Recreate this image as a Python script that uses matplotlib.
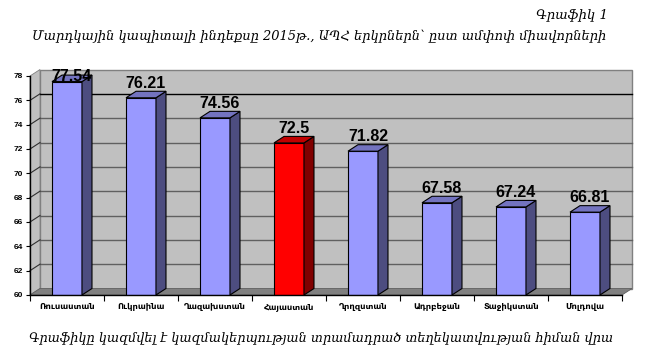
import numpy as np
import matplotlib
matplotlib.use("Agg")
import matplotlib.pyplot as plt
from matplotlib.patches import Polygon

# data
countries = ["Ռուսաստան", "Ուկրաինա", "Ղազախստան", "Հայաստան",
             "Ղրղզստան", "Ադրբեջան", "Տաջիկստան", "Մոլդովա"]
scores = [77.54, 76.21, 74.56, 72.5, 71.82, 67.58, 67.24, 66.81]
highlight = "Հայաստան"
yticks = [60, 62, 64, 66, 68, 70, 72, 74, 76, 78]

caption_top = "Գրաֆիկ 1"
title = "Մարդկային կապիտալի ինդեքսը 2015թ., ԱՊՀ երկրներն՝ ըստ ամփոփ միավորների"
footnote = "Գրաֆիկը կազմվել է կազմակերպության տրամադրած տեղեկատվության հիման վրա"

W, H = 647, 364
fig = plt.figure(figsize=(W / 100, H / 100), dpi=100)
# front plane of the 3d box in pixels
x0, x1, yb, yt = 30, 622, 295, 76
ax = fig.add_axes([x0 / W, (H - yb) / H, (x1 - x0) / W, (yb - yt) / H])
n = len(countries)
ymin, ymax = 60, 78
ax.set_xlim(0, n)
ax.set_ylim(ymin, ymax)
ax.patch.set_visible(False)

# depth offset, in data units
dx = 10 / ((x1 - x0) / n)
dy = 6.5 / ((yb - yt) / (ymax - ymin))

wall = "#c0c0c0"
# back wall
ax.add_patch(Polygon([(dx, ymin + dy), (n + dx, ymin + dy), (n + dx, ymax + dy), (dx, ymax + dy)],
                     closed=True, fc=wall, ec="#808080", lw=1, clip_on=False, zorder=0))
# left wall
ax.add_patch(Polygon([(0, ymin), (dx, ymin + dy), (dx, ymax + dy), (0, ymax)],
                     closed=True, fc=wall, ec="#808080", lw=0.6, clip_on=False, zorder=0))
# floor
ax.add_patch(Polygon([(0, ymin), (n, ymin), (n + dx, ymin + dy), (dx, ymin + dy)],
                     closed=True, fc="#808080", ec="#606060", lw=0.6, clip_on=False, zorder=1))

for v in yticks[1:-1]:
    c = "black" if v == 76 else "#606060"
    ax.plot([dx, n + dx], [v + dy, v + dy], color=c, lw=1, clip_on=False, zorder=0.5)
    ax.plot([0, dx], [v, v + dy], color="#303030", lw=0.8, clip_on=False, zorder=0.5)

# bars with side and top faces
xs = np.arange(n) + 0.5
w = 0.405
for x, v, name in zip(xs, scores, countries):
    if name == highlight:
        front, side, top = "#ff0000", "#800000", "#c00000"
    else:
        front, side, top = "#9999ff", "#4d4d80", "#7373bf"
    ax.bar(x, v - ymin, bottom=ymin, width=w, color=front, edgecolor="black", lw=0.8, zorder=3)
    r, l = x + w / 2, x - w / 2
    ax.add_patch(Polygon([(r, ymin), (r + dx, ymin + dy), (r + dx, v + dy), (r, v)],
                         closed=True, fc=side, ec="black", lw=0.8, clip_on=False, zorder=3))
    ax.add_patch(Polygon([(l, v), (r, v), (r + dx, v + dy), (l + dx, v + dy)],
                         closed=True, fc=top, ec="black", lw=0.8, clip_on=False, zorder=3))
    ly = min(v + dy + 0.3, 77.6)
    ax.text(x + dx / 2, ly, f"{v:g}", ha="center", va="baseline", fontsize=11.5,
            fontweight="bold", family=["Liberation Sans", "DejaVu Sans"], zorder=4, clip_on=False)

# axes
for s in ["top", "right"]:
    ax.spines[s].set_visible(False)
ax.spines["left"].set_linewidth(1)
ax.spines["bottom"].set_linewidth(1)
ax.spines["left"].set_zorder(5)
ax.spines["bottom"].set_zorder(5)
ax.set_yticks(yticks)
ax.set_yticklabels([str(t) for t in yticks], fontsize=6, fontweight="bold",
                   family=["Liberation Sans", "DejaVu Sans"])
ax.tick_params(axis="y", length=3, width=0.8, pad=2)
ax.set_xticks(np.arange(n + 1))
ax.set_xticklabels([])
ax.tick_params(axis="x", which="major", length=4, width=0.8)
ax.set_xticks(xs, minor=True)
ax.set_xticklabels(countries, minor=True, fontsize=6, fontweight="bold",
                   family=["DejaVu Sans"])
ax.tick_params(axis="x", which="minor", length=0, pad=5)

serif = ["DejaVu Serif", "DejaVu Sans"]
fig.text(608 / W, 1 - 15 / H, caption_top, ha="right", va="center", fontsize=9.5,
         style="italic", family=serif)
fig.text(319 / W, 1 - 37 / H, title, ha="center", va="center", fontsize=9.4,
         style="italic", family=serif)
fig.text(321 / W, 1 - 338 / H, footnote, ha="center", va="center", fontsize=9.3,
         style="italic", family=serif)

fig.savefig("out.png", dpi=100)
